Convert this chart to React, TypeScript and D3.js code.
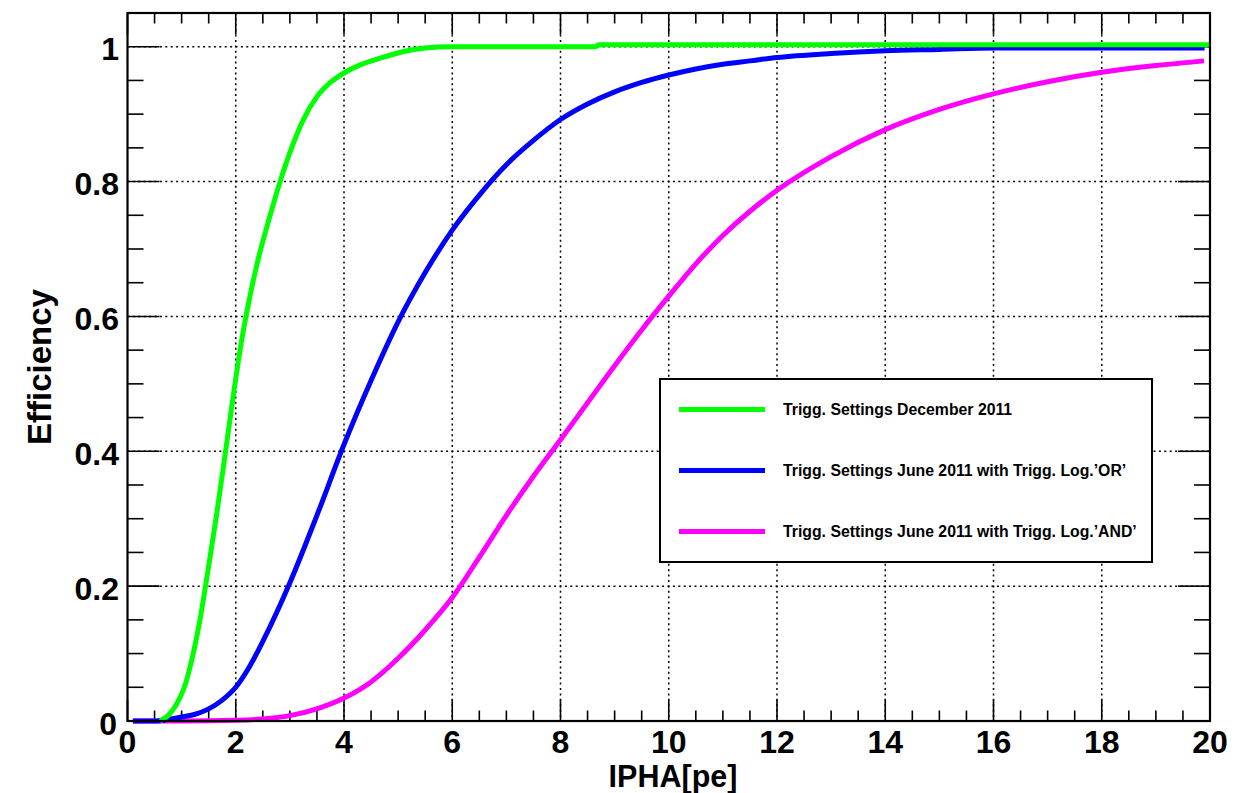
import React from "react";
import * as d3 from "d3";

const W = 1242;
const H = 793;

// Series: Trigg. Settings December 2011 (green)
const greenX = [0.6, 0.75, 0.9, 1.05, 1.2, 1.35, 1.5, 1.65, 1.8, 1.95, 2.1, 2.25, 2.4, 2.6, 2.8, 3.0, 3.25, 3.5, 3.75, 4.0, 4.3, 4.67, 5.1, 5.5, 6.0, 7.0, 8.65, 8.7, 10, 12, 14, 16, 18, 20];
const greenY = [0.0, 0.008, 0.024, 0.05, 0.095, 0.155, 0.23, 0.308, 0.393, 0.48, 0.56, 0.625, 0.68, 0.74, 0.795, 0.843, 0.892, 0.926, 0.947, 0.961, 0.973, 0.983, 0.993, 0.998, 1.0, 1.0, 1.0, 1.003, 1.003, 1.003, 1.003, 1.003, 1.003, 1.003];

// Series: Trigg. Settings June 2011 with Trigg. Log.'OR' (blue)
const blueX = [0.1, 0.5, 0.8, 1.0, 1.25, 1.5, 1.75, 2.0, 2.25, 2.5, 3.0, 3.5, 4.0, 4.5, 5.0, 5.5, 6.0, 6.5, 7.0, 7.5, 8.0, 8.5, 9.0, 9.5, 10.0, 10.5, 11.0, 11.5, 12.0, 13.0, 14.0, 15.0, 16.0, 18.0, 19.9];
const blueY = [0.0, 0.0, 0.003, 0.006, 0.01, 0.018, 0.031, 0.05, 0.08, 0.118, 0.205, 0.305, 0.41, 0.505, 0.592, 0.665, 0.728, 0.78, 0.825, 0.861, 0.892, 0.915, 0.933, 0.947, 0.958, 0.967, 0.974, 0.979, 0.984, 0.99, 0.994, 0.996, 0.998, 0.998, 0.998];

// Series: Trigg. Settings June 2011 with Trigg. Log.'AND' (magenta)
const magX = [0.1, 1.0, 2.0, 2.5, 3.0, 3.5, 4.0, 4.5, 5.0, 5.5, 6.0, 6.5, 7.0, 7.5, 8.0, 8.5, 9.0, 9.5, 10.0, 10.5, 11.0, 11.5, 12.0, 13.0, 14.0, 15.0, 16.0, 17.0, 18.0, 19.0, 19.89];
const magY = [0.0, 0.0, 0.001, 0.003, 0.008, 0.018, 0.034, 0.058, 0.093, 0.135, 0.183, 0.243, 0.305, 0.363, 0.417, 0.472, 0.527, 0.58, 0.63, 0.678, 0.72, 0.756, 0.787, 0.837, 0.877, 0.907, 0.93, 0.948, 0.962, 0.972, 0.979];

const seriesNames = [
  "Trigg. Settings December 2011",
  "Trigg. Settings June 2011 with Trigg. Log.\u2019OR\u2019",
  "Trigg. Settings June 2011 with Trigg. Log.\u2019AND\u2019",
];
const seriesColors = ["#00ff00", "#0000ff", "#ff00ff"];

const xMajorTicks = [0, 2, 4, 6, 8, 10, 12, 14, 16, 18, 20];
const xTickLabels = ["0", "2", "4", "6", "8", "10", "12", "14", "16", "18", "20"];
const yMajorTicks = [0, 0.2, 0.4, 0.6, 0.8, 1.0];
const yTickLabels = ["0", "0.2", "0.4", "0.6", "0.8", "1"];

const xTitle = "IPHA[pe]";
const yTitle = "Efficiency";

const FONT = "'Liberation Sans', Arial, Helvetica, sans-serif";

export default function App() {
  const left = 127.5, right = 1210, top = 13, bottom = 721;
  const x = d3.scaleLinear().domain([0, 20]).range([left, right]);
  const y = d3.scaleLinear().domain([0, 1.05]).range([bottom, top]);

  const mk = (xs: number[], ys: number[]) =>
    d3
      .line<number>()
      .x((i) => x(xs[i]))
      .y((i) => y(ys[i]))
      .curve(d3.curveMonotoneX)(xs.map((_, i) => i)) || "";

  const paths = [mk(greenX, greenY), mk(blueX, blueY), mk(magX, magY)];

  const xMinor = d3.range(0, 20.001, 0.5);
  const yMinor = d3.range(0, 1.0501, 0.05);

  const dash = "2 3.4";

  // legend
  const lgX0 = 660, lgY0 = 379, lgX1 = 1152, lgY1 = 562;
  const lgRows = [409.5, 470.5, 531.5];

  return (
    <svg
      width={W}
      height={H}
      style={{ position: "absolute", left: 0, top: 0, background: "#fff" }}
      fontFamily={FONT}
    >
      <rect x={0} y={0} width={W} height={H} fill="#fff" />
      {/* grid */}
      <g stroke="#000" strokeWidth={1.5} strokeDasharray={dash}>
        {xMajorTicks
          .filter((t) => t > 0 && t < 20)
          .map((t) => (
            <line key={"gx" + t} x1={x(t)} x2={x(t)} y1={top} y2={bottom} />
          ))}
        {yMajorTicks
          .filter((t) => t > 0)
          .map((t) => (
            <line key={"gy" + t} x1={left} x2={right} y1={y(t)} y2={y(t)} />
          ))}
      </g>
      {/* ticks */}
      <g stroke="#000" strokeWidth={1.6}>
        {xMinor.map((t, i) => {
          const major = i % 4 === 0;
          const len = major ? 21.5 : 10.5;
          return (
            <g key={"tx" + i}>
              <line x1={x(t)} x2={x(t)} y1={bottom} y2={bottom - len} />
              <line x1={x(t)} x2={x(t)} y1={top} y2={top + len} />
            </g>
          );
        })}
        {yMinor.map((t, i) => {
          const major = i % 4 === 0;
          const len = major ? 32 : 16;
          return (
            <g key={"ty" + i}>
              <line x1={left} x2={left + len} y1={y(t)} y2={y(t)} />
              <line x1={right} x2={right - len} y1={y(t)} y2={y(t)} />
            </g>
          );
        })}
      </g>
      {/* curves */}
      <g fill="none" strokeWidth={5} strokeLinejoin="round" strokeLinecap="butt">
        <path d={paths[2]} stroke={seriesColors[2]} />
        <path d={paths[1]} stroke={seriesColors[1]} />
        <path d={paths[0]} stroke={seriesColors[0]} />
      </g>
      {/* frame */}
      <rect
        x={left}
        y={top}
        width={right - left}
        height={bottom - top}
        fill="none"
        stroke="#000"
        strokeWidth={2.2}
      />
      {/* tick labels */}
      <g fontWeight="bold" fontSize={32} fill="#000">
        {xMajorTicks.map((t, i) => (
          <text key={"lx" + t} x={x(t)} y={753} textAnchor="middle">
            {xTickLabels[i]}
          </text>
        ))}
        {yMajorTicks.map((t, i) => (
          <text
            key={"ly" + t}
            x={i === 0 ? 117 : 119}
            y={y(t) + (i === 0 ? 14 : 13.5)}
            textAnchor="end"
          >
            {yTickLabels[i]}
          </text>
        ))}
      </g>
      {/* axis titles */}
      <text
        x={673}
        y={786.5}
        textAnchor="middle"
        fontWeight="bold"
        fontSize={30.5}
        fill="#000"
      >
        {xTitle}
      </text>
      <text
        transform={`translate(51, ${(top + bottom) / 2}) rotate(-90)`}
        textAnchor="middle"
        fontWeight="bold"
        fontSize={33}
        fill="#000"
      >
        {yTitle}
      </text>
      {/* legend */}
      <rect
        x={lgX0}
        y={lgY0}
        width={lgX1 - lgX0}
        height={lgY1 - lgY0}
        fill="#fff"
        stroke="#000"
        strokeWidth={2}
      />
      {seriesNames.map((name, i) => (
        <g key={"lg" + i}>
          <line
            x1={679}
            x2={765}
            y1={lgRows[i]}
            y2={lgRows[i]}
            stroke={seriesColors[i]}
            strokeWidth={5}
          />
          <text
            x={783}
            y={lgRows[i] + 5.5}
            fontWeight="bold"
            fontSize={15.8}
            fill="#000"
          >
            {name}
          </text>
        </g>
      ))}
    </svg>
  );
}
